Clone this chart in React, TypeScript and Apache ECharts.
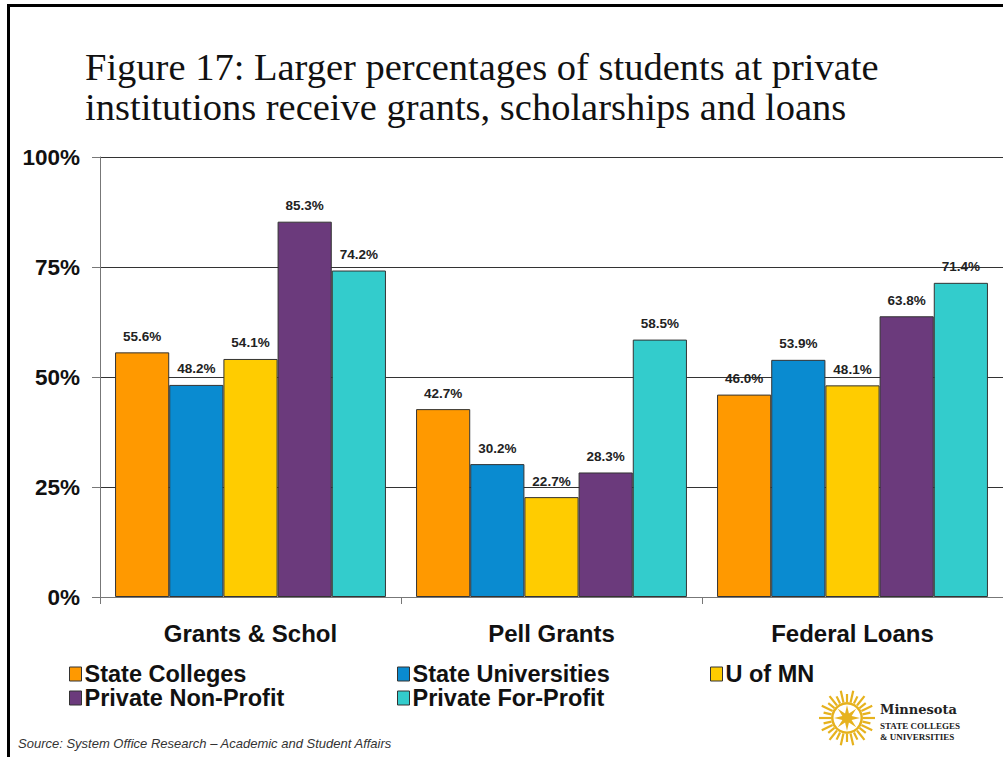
import React, { useEffect, useRef } from "react";
import * as echarts from "echarts";

const categories = ["Grants & Schol", "Pell Grants", "Federal Loans"];
const seriesNames = [
  "State Colleges",
  "State Universities",
  "U of MN",
  "Private Non-Profit",
  "Private For-Profit",
];
const stateColleges = [55.6, 42.7, 46.0];
const stateUniversities = [48.2, 30.2, 53.9];
const uOfMN = [54.1, 22.7, 48.1];
const privateNonProfit = [85.3, 28.3, 63.8];
const privateForProfit = [74.2, 58.5, 71.4];
const yTicks = [0, 25, 50, 75, 100];

const colors = ["#FF9900", "#0A8BD0", "#FFCC00", "#6B3A7C", "#33CCCC"];

function sunburst(cx: number, cy: number) {
  const els: any[] = [];
  const gold = "#E6B21E";
  const nRays = 28;
  for (let i = 0; i < nRays; i++) {
    const a = (i / nRays) * Math.PI * 2;
    const r1 = 16;
    const r2 = i % 2 === 0 ? 28 : 24;
    els.push({
      type: "line",
      shape: {
        x1: cx + r1 * Math.cos(a),
        y1: cy + r1 * Math.sin(a),
        x2: cx + r2 * Math.cos(a),
        y2: cy + r2 * Math.sin(a),
      },
      style: { stroke: gold, lineWidth: 2.2 },
    });
  }
  els.push({
    type: "ring",
    shape: { cx, cy, r: 16, r0: 13.5 },
    style: { fill: gold },
  });
  const pts: number[][] = [];
  for (let i = 0; i < 16; i++) {
    const a = (i / 16) * Math.PI * 2 - Math.PI / 2;
    const r = i % 2 === 0 ? 13 : 5;
    pts.push([cx + r * Math.cos(a), cy + r * Math.sin(a)]);
  }
  els.push({ type: "polygon", shape: { points: pts }, style: { fill: gold } });
  return els;
}

export default function App() {
  const ref = useRef<HTMLDivElement>(null);
  useEffect(() => {
    if (!ref.current) return;
    const chart = echarts.init(ref.current, null, { renderer: "svg" });
    const values = [stateColleges, stateUniversities, uOfMN, privateNonProfit, privateForProfit];
    const legendText = {
      fontFamily: "Liberation Sans, Arial, sans-serif",
      fontWeight: "bold" as const,
      fontSize: 23.5,
      color: "#111",
    };
    const legendBase = {
      orient: "vertical" as const,
      top: 657,
      icon: "rect",
      itemWidth: 12,
      itemHeight: 14,
      itemGap: 0,
      textStyle: { ...legendText, padding: [0, 0, 0, -2] },
      itemStyle: { borderColor: "#333", borderWidth: 1 },
      selectedMode: false,
    };
    chart.setOption({
      animation: false,
      backgroundColor: "#ffffff",
      title: {
        text:
          "Figure 17: Larger percentages of students at private\ninstitutions receive grants, scholarships and loans",
        left: 80,
        top: 42,
        textStyle: {
          fontFamily: "Liberation Serif, Times New Roman, serif",
          fontWeight: "normal",
          fontSize: 38.5,
          lineHeight: 40,
          color: "#111",
        },
      },
      legend: [
        { ...legendBase, left: 64, data: [seriesNames[0], seriesNames[3]] },
        { ...legendBase, left: 392, data: [seriesNames[1], seriesNames[4]] },
        { ...legendBase, left: 705, data: [seriesNames[2]] },
      ],
      grid: { left: 100, top: 157, width: 905, height: 440, containLabel: false },
      xAxis: {
        type: "category",
        data: categories,
        axisLine: { show: true, lineStyle: { color: "#777", width: 1 } },
        axisTick: { show: true, length: 7, lineStyle: { color: "#777" } },
        axisLabel: {
          margin: 24,
          fontFamily: "Liberation Sans, Arial, sans-serif",
          fontWeight: "bold",
          fontSize: 24,
          color: "#111",
        },
      },
      yAxis: {
        type: "value",
        min: yTicks[0],
        max: yTicks[yTicks.length - 1],
        interval: 25,
        axisLine: { show: true, lineStyle: { color: "#777", width: 1 } },
        axisTick: { show: true, length: 8, lineStyle: { color: "#777" } },
        splitLine: { show: true, lineStyle: { color: "#333", width: 1 } },
        axisLabel: {
          formatter: "{value}%",
          margin: 20,
          fontFamily: "Liberation Sans, Arial, sans-serif",
          fontWeight: "bold",
          fontSize: 22.5,
          color: "#111",
        },
      },
      series: seriesNames.map((name, i) => ({
        name,
        type: "bar",
        data: values[i],
        barGap: "0%",
        barCategoryGap: "10%",
        itemStyle: { color: colors[i], borderColor: "#333", borderWidth: 1 },
        label: {
          show: true,
          position: "top",
          distance: 9,
          formatter: (p: any) => p.value.toFixed(1) + "%",
          fontFamily: "Liberation Sans, Arial, sans-serif",
          fontWeight: "bold",
          fontSize: 13.5,
          color: "#222",
        },
      })),
      graphic: [
        { type: "line", shape: { x1: 7, y1: 5.5, x2: 1003, y2: 5.5 }, style: { stroke: "#000", lineWidth: 3 } },
        { type: "line", shape: { x1: 8.5, y1: 4, x2: 8.5, y2: 757 }, style: { stroke: "#000", lineWidth: 3 } },
        {
          type: "text",
          left: 18,
          top: 737,
          style: {
            text: "Source: System Office Research \u2013 Academic and Student Affairs",
            fontFamily: "Liberation Sans, Arial, sans-serif",
            fontStyle: "italic",
            fontSize: 13,
            fill: "#333",
          },
        },
        ...sunburst(847, 718),
        {
          type: "text",
          x: 880,
          y: 703,
          style: {
            text: "Minnesota",
            fontFamily: "DejaVu Serif, serif",
            fontWeight: "bold",
            fontSize: 13,
            fill: "#222",
          },
        },
        {
          type: "text",
          x: 880,
          y: 721,
          style: {
            text: "STATE COLLEGES",
            fontFamily: "Liberation Serif, serif",
            fontWeight: "bold",
            fontSize: 9,
            fill: "#222",
          },
        },
        {
          type: "text",
          x: 880,
          y: 732,
          style: {
            text: "& UNIVERSITIES",
            fontFamily: "Liberation Serif, serif",
            fontWeight: "bold",
            fontSize: 9,
            fill: "#222",
          },
        },
      ],
    });
    return () => chart.dispose();
  }, []);
  return (
    <div
      ref={ref}
      style={{ position: "fixed", left: 0, top: 0, width: 1003, height: 757 }}
    />
  );
}
